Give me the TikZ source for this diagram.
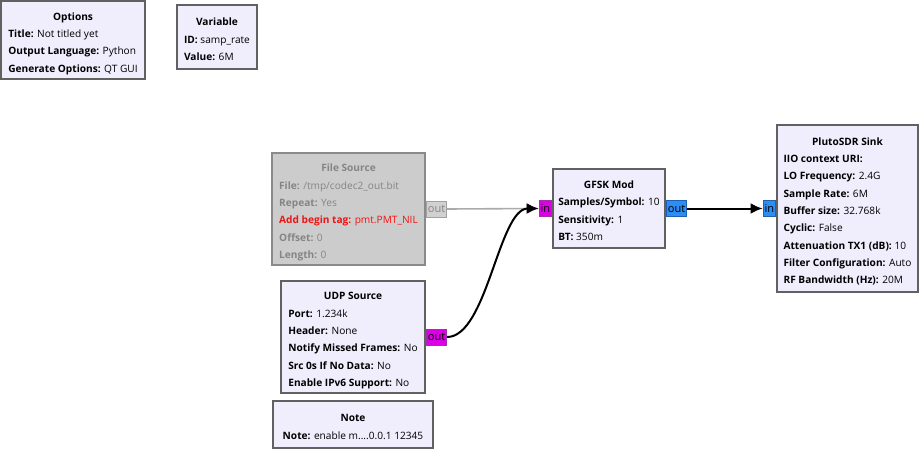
\documentclass[tikz,border=0pt]{standalone}
\usepackage{fontspec}
\setmainfont{Open Sans}
\usepackage{xcolor}
\usepackage{tikz}
\usetikzlibrary{arrows.meta,positioning}
\definecolor{BlockFill}{HTML}{F0EDFC}
\definecolor{BlockLine}{HTML}{616161}
\definecolor{OffFill}{HTML}{CCCCCC}
\definecolor{OffLine}{HTML}{8A8A8A}
\definecolor{OffText}{HTML}{858585}
\definecolor{TagRed}{HTML}{F01414}
\definecolor{ByteMag}{HTML}{DD00E6}
\definecolor{ByteMagLine}{HTML}{A030B0}
\definecolor{CplxBlue}{HTML}{2C8DF5}
\definecolor{CplxBlueLine}{HTML}{2060B0}
\definecolor{WireGray}{HTML}{ABABAB}
\newcommand{\blk}[2]{\begin{tabular}{@{}l@{}}\noalign{\vskip4pt}\multicolumn{1}{@{}c@{}}{\textbf{#1}}\\#2\end{tabular}}
\tikzset{
  block/.style={rectangle, draw=BlockLine, fill=BlockFill, line width=1.5pt, inner sep=0pt, font=\fontsize{7.6}{13}\selectfont},
  offblock/.style={block, draw=OffLine, fill=OffFill, text=OffText},
  port/.style={rectangle, line width=0.75pt, inner sep=1pt, minimum height=12pt, font=\fontsize{8.3}{10}\selectfont},
  byteport/.style={port, draw=ByteMagLine, fill=ByteMag},
  cplxport/.style={port, draw=CplxBlueLine, fill=CplxBlue},
  offport/.style={port, draw=OffLine!80, fill=OffFill!90!white, text=OffText},
  wire/.style={-{Latex[length=9pt,width=8pt]}, line width=1.5pt, draw=black},
  offwire/.style={-{Latex[length=9pt,width=8pt]}, line width=1.2pt, draw=WireGray},
}
\begin{document}
\begin{tikzpicture}[x=0.75pt,y=-0.75pt]
\path[use as bounding box] (0,0) rectangle (922,450);

% top row: options and variable
\node[block,minimum width=108pt,minimum height=59pt] (options) at (73,40) {\blk{Options}{\textbf{Title:} Not titled yet\\\textbf{Output Language:} Python\\\textbf{Generate Options:} QT GUI}};
\node[block,minimum width=60pt,minimum height=48pt] (variable) at (217,37) {\blk{Variable}{\textbf{ID:} samp\_rate\\\textbf{Value:} 6M}};

% sources
\node[offblock,minimum width=114.75pt,minimum height=84pt] (filesrc) at (348.5,209) {\blk{File Source}{\textbf{File:} /tmp/codec2\_out.bit\\\textbf{Repeat:} Yes\\\textcolor{TagRed}{\textbf{Add begin tag:} pmt.PMT\_NIL}\\\textbf{Offset:} 0\\\textbf{Length:} 0}};
\node[block,minimum width=108pt,minimum height=84pt] (udpsrc) at (353,337) {\blk{UDP Source}{\textbf{Port:} 1.234k\\\textbf{Header:} None\\\textbf{Notify Missed Frames:} No\\\textbf{Src 0s If No Data:} No\\\textbf{Enable IPv6 Support:} No}};
\node[block,minimum width=120pt,minimum height=35pt] (note) at (353,424.5) {\blk{Note}{\textbf{Note:} enable m....0.0.1 12345}};

% modulator and sink
\node[block,minimum width=84pt,minimum height=59pt] (gfsk) at (609,208.5) {\blk{GFSK Mod}{\textbf{Samples/Symbol:} 10\\\textbf{Sensitivity:} 1\\\textbf{BT:} 350m}};
\node[block,minimum width=105.75pt,minimum height=125pt] (pluto) at (847.5,208.5) {\blk{PlutoSDR Sink}{\textbf{IIO context URI:}\\\textbf{LO Frequency:} 2.4G\\\textbf{Sample Rate:} 6M\\\textbf{Buffer size:} 32.768k\\\textbf{Cyclic:} False\\\textbf{Attenuation TX1 (dB):} 10\\\textbf{Filter Configuration:} Auto\\\textbf{RF Bandwidth (Hz):} 20M}};

% ports
\node[offport,right=0pt of filesrc] (fileout) {out};
\node[byteport,right=0pt of udpsrc] (udpout) {out};
\node[byteport,left=0pt of gfsk] (gfskin) {in};
\node[cplxport,right=0pt of gfsk] (gfskout) {out};
\node[cplxport,left=0pt of pluto] (plutoin) {in};

% connections
\draw[offwire] (fileout.east) -- (gfskin.west);
\draw[wire] (udpout.east) .. controls +(40,0) and +(-40,0) .. (gfskin.west);
\draw[wire] (gfskout) -- (plutoin);
\end{tikzpicture}
\end{document}
